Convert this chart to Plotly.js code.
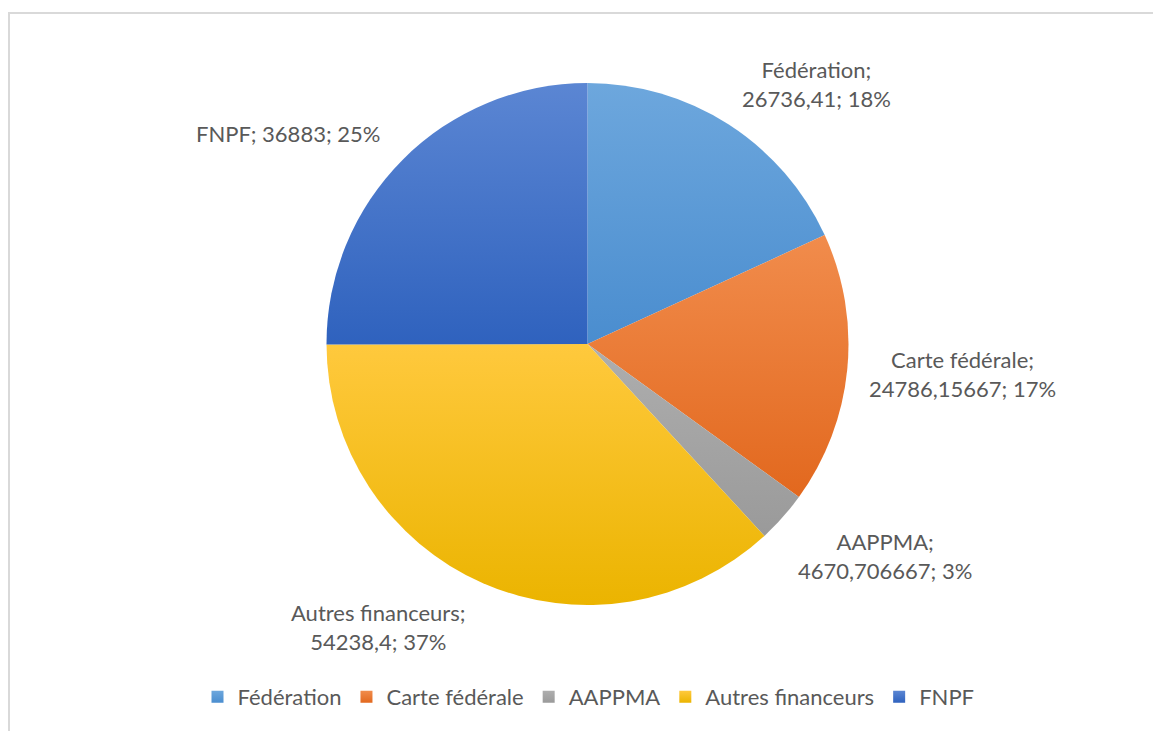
<!DOCTYPE html>
<html>
<head>
<meta charset="utf-8">
<script src="https://cdn.plot.ly/plotly-3.0.1.min.js"></script>
<style>
html,body{margin:0;padding:0;background:#fff;}
#frame{position:absolute;left:8px;top:12px;width:1145px;height:719px;border-top:2px solid #d9d9d9;border-left:2px solid #d9d9d9;box-sizing:border-box;pointer-events:none;z-index:5;}
#chart{width:1153px;height:731px;}
</style>
</head>
<body>
<div id="frame"></div>
<div id="chart"></div>
<script>
const categories = ["Fédération", "Carte fédérale", "AAPPMA", "Autres financeurs", "FNPF"];
const values = [26736.41, 24786.15667, 4670.706667, 54238.4, 36883];
const colors = ["#5B9BD5", "#ED7D31", "#A5A5A5", "#FFC000", "#4472C4"];
const gradTop = ["#6DA7DD", "#F18C4C", "#AEAEAE", "#FFC93D", "#5B86D3"];
const gradBottom = ["#4A8DCF", "#E2681E", "#9A9A9A", "#EBB400", "#2F62BE"];
const labelX = [816, 962, 885, 378, 288];
const labelY = [84, 374, 556, 627, 133];
const labelOneLine = [false, false, false, false, true];

const W = 1153, H = 731;
const FONT = 'Lato, "Open Sans", sans-serif';
const total = values.reduce((a, b) => a + b, 0);
const fmt = v => String(v).replace('.', ',');

const annotations = categories.map((c, i) => {
  const pct = Math.round(values[i] / total * 100) + '%';
  const sep = labelOneLine[i] ? '; ' : ';<br>';
  return {
    text: c + sep + fmt(values[i]) + '; ' + pct,
    x: labelX[i] / W, y: 1 - labelY[i] / H,
    xref: 'paper', yref: 'paper',
    xanchor: 'center', yanchor: 'middle',
    showarrow: false, align: 'center',
    font: {family: FONT, size: 22, color: '#595959'}
  };
});

const trace = {
  type: 'pie',
  labels: categories,
  values: values,
  sort: false,
  direction: 'clockwise',
  rotation: 0,
  textinfo: 'none',
  hoverinfo: 'label+value+percent',
  marker: {colors: colors, line: {color: '#ffffff', width: 0}},
  domain: {x: [326.5 / W, 848.5 / W], y: [1 - 605 / H, 1 - 83 / H]}
};

const layout = {
  width: W, height: H,
  margin: {l: 0, r: 0, t: 0, b: 0},
  paper_bgcolor: '#ffffff',
  showlegend: true,
  legend: {
    orientation: 'h', x: 0.5 + 12 / W, xanchor: 'center', y: 1 - 697 / H, yanchor: 'middle',
    font: {family: FONT, size: 22, color: '#595959'},
    itemwidth: 30, tracegroupgap: 0
  },
  annotations: annotations
};

Plotly.newPlot('chart', [trace], layout, {displayModeBar: false, staticPlot: true}).then(gd => {
  const svgNS = 'http://www.w3.org/2000/svg';
  const svg = gd.querySelector('svg.main-svg');
  let defs = svg.querySelector('defs');
  if (!defs) { defs = document.createElementNS(svgNS, 'defs'); svg.insertBefore(defs, svg.firstChild); }
  const makeGrad = (id, i) => {
    const g = document.createElementNS(svgNS, 'linearGradient');
    g.setAttribute('id', id);
    g.setAttribute('x1', '0'); g.setAttribute('y1', '0');
    g.setAttribute('x2', '0'); g.setAttribute('y2', '1');
    [[0, gradTop[i]], [1, gradBottom[i]]].forEach(([o, c]) => {
      const s = document.createElementNS(svgNS, 'stop');
      s.setAttribute('offset', o); s.setAttribute('stop-color', c);
      g.appendChild(s);
    });
    defs.appendChild(g);
  };
  categories.forEach((c, i) => makeGrad('sliceGrad' + i, i));
  gd.querySelectorAll('g.slice path.surface').forEach((p, i) => {
    p.style.fill = 'url(#sliceGrad' + i + ')';
  });
  gd.querySelectorAll('g.legend g.traces').forEach((t, i) => {
    const p = t.querySelector('path.legendpie');
    if (p) {
      const id = 'legGrad' + i;
      makeGrad(id, i);
      p.style.fill = 'url(#' + id + ')';
    }
  });
});
</script>
</body>
</html>
